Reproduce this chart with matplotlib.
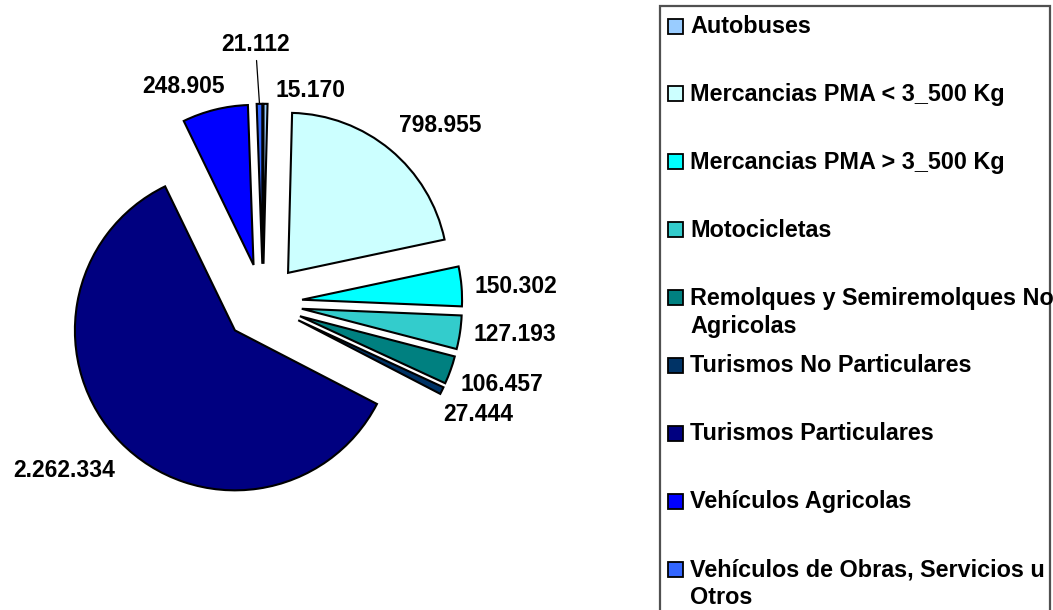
import matplotlib
matplotlib.use("Agg")
import matplotlib.pyplot as plt
from matplotlib.patches import Rectangle
import numpy as np

# ---------------- data ----------------
categories = [
    "Autobuses",
    "Mercancias PMA < 3_500 Kg",
    "Mercancias PMA > 3_500 Kg",
    "Motocicletas",
    "Remolques y Semiremolques No\nAgricolas",
    "Turismos No Particulares",
    "Turismos Particulares",
    "Vehículos Agricolas",
    "Vehículos de Obras, Servicios u\nOtros",
]
values = [15170, 798955, 150302, 127193, 106457, 27444, 2262334, 248905, 21112]
value_labels = ["15.170", "798.955", "150.302", "127.193", "106.457",
                "27.444", "2.262.334", "248.905", "21.112"]
colors = ["#99CCFF", "#CCFFFF", "#00FFFF", "#33CCCC", "#008080",
          "#003366", "#000080", "#0000FF", "#3366FF"]

# ---------------- layout ----------------
W, H = 1053, 610
R = 160            # pie radius in pixels
cx, cy = 263, 303  # pie centre in pixels (from top-left)
FONT = "Liberation Sans"

fig = plt.figure(figsize=(W / 100, H / 100), dpi=100)
fig.patch.set_facecolor("white")

ax = fig.add_axes([0, 0, 1, 1])
wedges, _ = ax.pie(values, colors=colors, startangle=90, counterclock=False,
                   explode=[0.245] * len(values),
                   wedgeprops=dict(edgecolor="black", linewidth=1.5))
ax.set_aspect("auto")
ax.set_xlim(-cx / R, (W - cx) / R)
ax.set_ylim(-(H - cy) / R, cy / R)
ax.axis("off")

# label offsets in pixels from the outer edge of each wedge (x right, y up)
label_offsets = [(45, 13), (50, 24), (54, 0), (55, -2), (51, -14),
                 (36, -24), (-56, -29), (-31, 23), (-4, 59)]
for i, w in enumerate(wedges):
    mid = np.deg2rad((w.theta1 + w.theta2) / 2)
    x0, y0 = w.center
    anchor = (x0 + w.r * np.cos(mid), y0 + w.r * np.sin(mid))
    kw = {}
    if i == len(wedges) - 1:
        kw["arrowprops"] = dict(arrowstyle="-", color="black", lw=0.9,
                                shrinkA=1, shrinkB=0)
    ax.annotate(value_labels[i], xy=anchor, xytext=label_offsets[i],
                textcoords="offset pixels", ha="center", va="center",
                fontsize=16.5, fontweight="bold", family=FONT, color="black", **kw)

# ---------------- legend (drawn in pixel coordinates) ----------------
lax = fig.add_axes([0, 0, 1, 1], facecolor="none")
lax.set_xlim(0, W)
lax.set_ylim(H, 0)
lax.axis("off")

box = Rectangle((660, 6), 1050 - 660, H + 20 - 6, facecolor="white",
                edgecolor="#505050", linewidth=1.6, zorder=1)
lax.add_patch(box)
clip = Rectangle((660, 6), 1050 - 660, H + 20 - 6, transform=lax.transData)

for i, (lab, col) in enumerate(zip(categories, colors)):
    base = 33 + 67.9 * i
    lax.add_patch(Rectangle((668, base - 14.5), 15, 15, facecolor=col,
                            edgecolor="black", linewidth=1.3, zorder=2))
    for j, line in enumerate(lab.split("\n")):
        t = lax.text(690, base + 28 * j, line, ha="left", va="baseline",
                     fontsize=16.8, fontweight="bold", family=FONT,
                     color="black", zorder=3)
        t.set_clip_path(clip)

fig.savefig("out.png", dpi=100, facecolor="white")
